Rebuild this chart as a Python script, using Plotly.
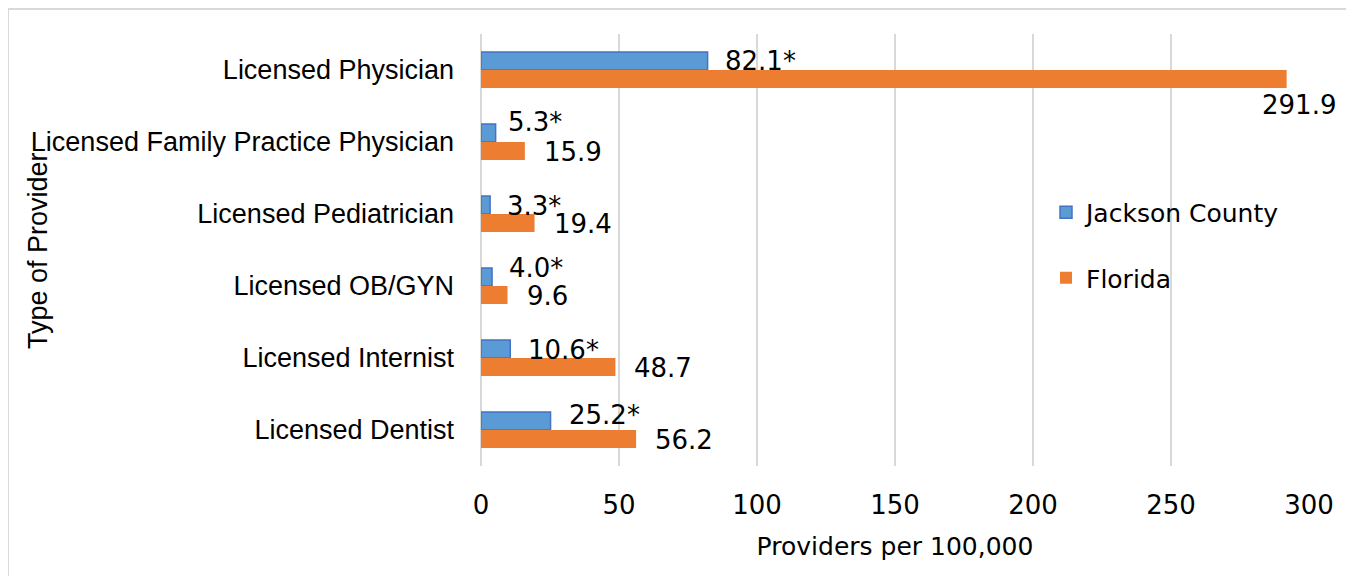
import plotly.graph_objects as go

# Data
categories = ['Licensed Physician', 'Licensed Family Practice Physician', 'Licensed Pediatrician',
              'Licensed OB/GYN', 'Licensed Internist', 'Licensed Dentist']
jackson = [82.1, 5.3, 3.3, 4.0, 10.6, 25.2]
florida = [291.9, 15.9, 19.4, 9.6, 48.7, 56.2]
jackson_labels = ['82.1*', '5.3*', '3.3*', '4.0*', '10.6*', '25.2*']
florida_labels = ['291.9', '15.9', '19.4', '9.6', '48.7', '56.2']
x_ticks = [0, 50, 100, 150, 200, 250, 300]

# label nudges (pixels), as Excel placed them
jackson_dy = [9, 20, 8, 18, 8, 15]
jackson_dx = [15, 10, 15, 15, 16, 16]

BLUE = '#5B9BD5'
BLUE_EDGE = '#4472C4'
ORANGE = '#ED7D31'
GRID = '#D9D9D9'
LABEL_FONT = 'Liberation Sans, Arial, sans-serif'
NUM_FONT = 'DejaVu Sans, sans-serif'

# figure size (page body adds an 8px margin) and plot box in figure pixels
W, H = 1346, 568
L, R, T, B = 473, 45, 26, 110
PW, PH = W - L - R, H - T - B


def px_x(p):
    return (p - L) / PW


def px_y(p):
    return (T + PH - p) / PH


fig = go.Figure()
fig.add_trace(go.Bar(
    y=categories, x=jackson, orientation='h', name='Jackson County',
    marker=dict(color=BLUE, line=dict(color=BLUE_EDGE, width=1.5)),
    legendgroup='a'
))
fig.add_trace(go.Bar(
    y=categories, x=florida, orientation='h', name='Florida',
    marker=dict(color=ORANGE, line=dict(color=ORANGE, width=0)),
    legendgroup='b'
))

# Data labels next to each bar
num_font = dict(family=NUM_FONT, size=26, color='black')
for cat, v, t, dx, dy in zip(categories, jackson, jackson_labels, jackson_dx, jackson_dy):
    fig.add_annotation(x=v, y=cat, text=t, showarrow=False, xanchor='left',
                       xshift=dx, yshift=dy, font=num_font)
for cat, v, t in zip(categories, florida, florida_labels):
    if v > 250:
        fig.add_annotation(x=v, y=cat, text=t, showarrow=False, xanchor='center',
                           xshift=12, yshift=-35, font=num_font)
    else:
        fig.add_annotation(x=v, y=cat, text=t, showarrow=False, xanchor='left',
                           xshift=17, yshift=-10, font=num_font)

# Y axis title sits over the category labels
fig.add_annotation(text='Type of Provider', textangle=-90, showarrow=False,
                   xref='paper', yref='paper', x=px_x(30), y=0.5,
                   xanchor='center', yanchor='middle',
                   font=dict(family=LABEL_FONT, size=27, color='black'))

# Outer chart border
fig.add_shape(type='rect', xref='paper', yref='paper',
              x0=px_x(0), x1=px_x(1340), y0=px_y(580), y1=px_y(1),
              line=dict(color=GRID, width=2), fillcolor='rgba(0,0,0,0)', layer='below')

fig.update_layout(
    width=W, height=H,
    margin=dict(l=L, r=R, t=T, b=B),
    barmode='group', bargap=0.5, bargroupgap=0,
    plot_bgcolor='white', paper_bgcolor='white',
    font=dict(family=LABEL_FONT, size=27, color='black'),
    xaxis=dict(
        range=[0, 300], tickvals=x_ticks, showgrid=True, gridcolor=GRID, gridwidth=2,
        zeroline=True, zerolinecolor=GRID, zerolinewidth=2, showline=False,
        tickfont=dict(family=NUM_FONT, size=26), ticks='', ticklabelstandoff=21,
        title=dict(text='Providers per 100,000', font=dict(family=NUM_FONT, size=25), standoff=18),
    ),
    yaxis=dict(
        range=[5.5, -0.5], autorange=False, showgrid=False, showline=False, ticks='',
        tickfont=dict(family=LABEL_FONT, size=27), ticklabelstandoff=26,
    ),
    legend=dict(
        x=px_x(1038), y=px_y(237), xanchor='left', yanchor='middle', bgcolor='rgba(0,0,0,0)',
        font=dict(family=NUM_FONT, size=25), tracegroupgap=30, itemwidth=30,
    ),
    showlegend=True,
)

fig.write_html('out.html')
